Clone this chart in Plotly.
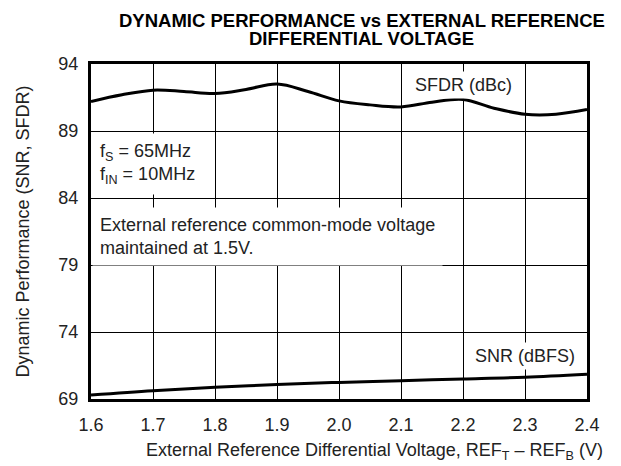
import plotly.graph_objects as go

x_sfdr = [1.60, 1.65, 1.70, 1.75, 1.80, 1.85, 1.90, 1.95, 2.00, 2.05, 2.10, 2.15, 2.20, 2.25, 2.30, 2.35, 2.40]
sfdr = [91.2, 91.7, 92.05, 91.95, 91.8, 92.1, 92.5, 91.95, 91.25, 90.95, 90.8, 91.15, 91.35, 90.7, 90.25, 90.25, 90.6]

x_snr = [1.6, 1.7, 1.8, 1.9, 2.0, 2.1, 2.2, 2.3, 2.4]
snr = [69.3, 69.62, 69.87, 70.08, 70.24, 70.37, 70.49, 70.62, 70.84]

x_ticks = [1.6, 1.7, 1.8, 1.9, 2.0, 2.1, 2.2, 2.3, 2.4]
x_tick_labels = ["1.6", "1.7", "1.8", "1.9", "2.0", "2.1", "2.2", "2.3", "2.4"]
y_ticks = [69, 74, 79, 84, 89, 94]

FONT = "Liberation Sans, Arial, Helvetica, sans-serif"
TXT = "#222"

fig = go.Figure()
fig.add_trace(go.Scatter(x=x_sfdr, y=sfdr, mode="lines",
                         line=dict(color="black", width=3, shape="spline", smoothing=1.0),
                         showlegend=False, hoverinfo="skip"))
fig.add_trace(go.Scatter(x=x_snr, y=snr, mode="lines",
                         line=dict(color="black", width=3, shape="spline"),
                         showlegend=False, hoverinfo="skip"))

ann_font = dict(family=FONT, size=18, color=TXT)

fig.add_annotation(x=2.2, y=92.4, xref="x", yref="y", text="SFDR (dBc)",
                   showarrow=False, bgcolor="white", font=ann_font, borderpad=3,
                   xanchor="center", yanchor="middle")
fig.add_annotation(x=2.30, y=72.2, xref="x", yref="y", text="SNR (dBFS)",
                   showarrow=False, bgcolor="white", font=ann_font, borderpad=3,
                   xanchor="center", yanchor="middle")
fig.add_annotation(x=1.601, y=86.55, xref="x", yref="y",
                   text="f<sub>S</sub> = 65MHz<br>f<sub>IN</sub> = 10MHz",
                   showarrow=False, bgcolor="white", font=ann_font, borderpad=7,
                   xanchor="left", yanchor="middle", align="left")
fig.add_annotation(x=1.601, y=81.15, xref="x", yref="y",
                   text="External reference common-mode voltage<br>maintained at 1.5V.",
                   showarrow=False, bgcolor="white", font=ann_font, borderpad=7,
                   xanchor="left", yanchor="middle", align="left")

# Title (two tightly spaced lines)
title_font = dict(family=FONT, size=18.5, color="black")
fig.add_annotation(x=0.546, y=1.0, xref="paper", yref="paper", yshift=44,
                   text="<b>DYNAMIC PERFORMANCE vs EXTERNAL REFERENCE</b>",
                   showarrow=False, font=title_font,
                   xanchor="center", yanchor="middle")
fig.add_annotation(x=0.546, y=1.0, xref="paper", yref="paper", yshift=26,
                   text="<b>DIFFERENTIAL VOLTAGE</b>",
                   showarrow=False, font=title_font,
                   xanchor="center", yanchor="middle")
# Axis titles
fig.add_annotation(x=0.571, y=0, xref="paper", yref="paper", yshift=-52.5,
                   text="External Reference Differential Voltage, REF<sub>T</sub> – REF<sub>B</sub> (V)",
                   showarrow=False, font=dict(family=FONT, size=18, color=TXT),
                   xanchor="center", yanchor="middle")
fig.add_annotation(x=0, y=0.5, xref="paper", yref="paper", xshift=-69,
                   text="Dynamic Performance (SNR, SFDR)", textangle=-90,
                   showarrow=False, font=dict(family=FONT, size=18, color=TXT),
                   xanchor="center", yanchor="middle")

fig.update_xaxes(range=[1.6, 2.4], tickvals=x_ticks, ticktext=x_tick_labels,
                 showgrid=True, gridcolor="black", gridwidth=1,
                 showline=True, linecolor="black", linewidth=3, mirror=True,
                 ticks="", ticklabelstandoff=7,
                 tickfont=dict(family=FONT, size=18, color=TXT),
                 zeroline=False, fixedrange=True)
fig.update_yaxes(range=[69, 94], tickvals=y_ticks,
                 showgrid=True, gridcolor="black", gridwidth=1,
                 showline=True, linecolor="black", linewidth=3, mirror=True,
                 ticks="", ticklabelstandoff=6,
                 tickfont=dict(family=FONT, size=18, color=TXT),
                 zeroline=False, fixedrange=True)

# page body adds an 8px margin; figure sized to fill the rest of the window
fig.update_layout(width=613, height=458,
                  margin=dict(l=83, r=34, t=56, b=66.5),
                  paper_bgcolor="white", plot_bgcolor="white",
                  showlegend=False)

fig.write_html("out.html")
